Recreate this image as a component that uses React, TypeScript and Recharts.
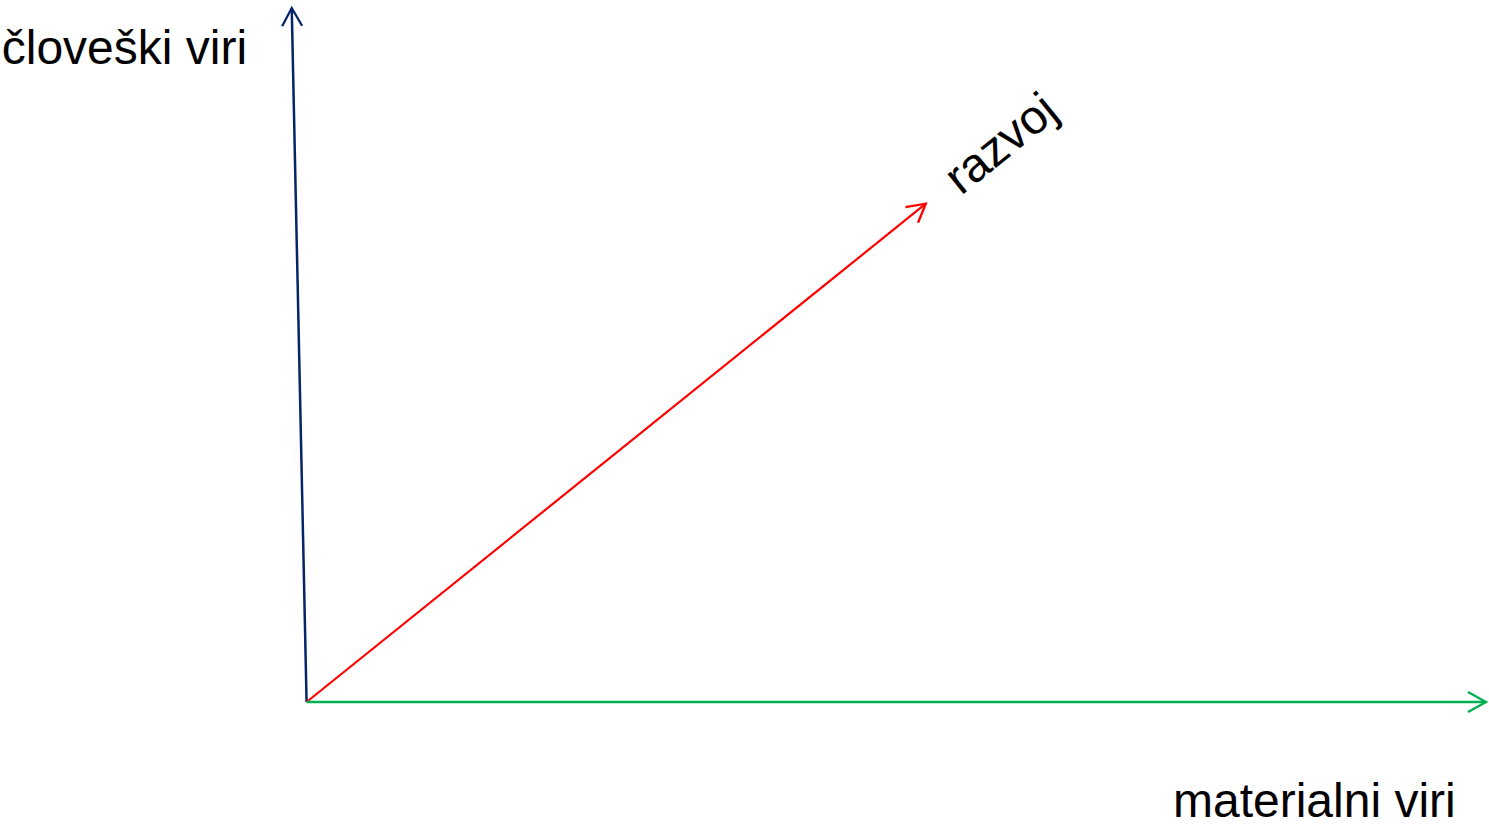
import React from 'react';
import { LineChart, Line, XAxis, YAxis } from 'recharts';

// Axis names
const axisNames = ['človeški viri', 'razvoj', 'materialni viri'];

// Common origin of all three arrows
const origin = { x: 0, y: 0 };

// Tips of the arrows (x: material resources, y: human resources)
const humanTip = { x: -1.26, y: 100 };
const developmentTip = { x: 52.5, y: 71.8 };
const materialTip = { x: 100, y: 0 };

const humanSeries = [origin, humanTip];
const developmentSeries = [origin, developmentTip];
const materialSeries = [origin, materialTip];

const COLORS = { human: '#062468', development: '#FF0000', material: '#00B050' };
const FONT = '"Liberation Sans", Arial, sans-serif';

const Arrowheads = () => (
  <svg width={0} height={0} style={{ position: 'absolute' }}>
    <defs>
      {Object.entries(COLORS).map(([k, c]) => (
        <marker
          key={k}
          id={`arrow-${k}`}
          markerUnits="userSpaceOnUse"
          markerWidth={30}
          markerHeight={30}
          refX={22}
          refY={15}
          orient="auto"
          overflow="visible"
        >
          <path d="M4,5 L22,15 L4,25" fill="none" stroke={c} strokeWidth={2.3} strokeLinecap="butt" strokeLinejoin="miter" />
        </marker>
      ))}
    </defs>
  </svg>
);

const makeLabel = (text: string, dx: number, dy: number, rotate = 0, anchor: 'start' | 'middle' | 'end' = 'start') =>
  (props: any) => {
    if (props.index !== 1) return null;
    const x = props.x + dx;
    const y = props.y + dy;
    return (
      <text
        x={x}
        y={y}
        textAnchor={anchor}
        fontFamily={FONT}
        fontSize={48}
        fill="#000"
        transform={rotate ? `rotate(${rotate}, ${x}, ${y})` : undefined}
      >
        {text}
      </text>
    );
  };

export default function App() {
  return (
    <div style={{ position: 'absolute', left: 0, top: 0, width: 1489, height: 829, background: '#fff' }}>
      <Arrowheads />
      <LineChart width={1489} height={829} margin={{ top: 8, right: 3, bottom: 127, left: 283 }}>
        <XAxis type="number" dataKey="x" domain={[-2, 100]} hide />
        <YAxis type="number" dataKey="y" domain={[0, 100]} hide />
        <Line
          data={humanSeries}
          dataKey="y"
          type="linear"
          stroke={COLORS.human}
          strokeWidth={2.5}
          dot={false}
          activeDot={false}
          isAnimationActive={false}
          markerEnd="url(#arrow-human)"
          label={makeLabel(axisNames[0], -290, 56)}
        />
        <Line
          data={developmentSeries}
          dataKey="y"
          type="linear"
          stroke={COLORS.development}
          strokeWidth={2.2}
          dot={false}
          activeDot={false}
          isAnimationActive={false}
          markerEnd="url(#arrow-development)"
          label={makeLabel(axisNames[1], 85, -48, -39, 'middle')}
        />
        <Line
          data={materialSeries}
          dataKey="y"
          type="linear"
          stroke={COLORS.material}
          strokeWidth={2.4}
          dot={false}
          activeDot={false}
          isAnimationActive={false}
          markerEnd="url(#arrow-material)"
          label={makeLabel(axisNames[2], -313, 115)}
        />
      </LineChart>
    </div>
  );
}
